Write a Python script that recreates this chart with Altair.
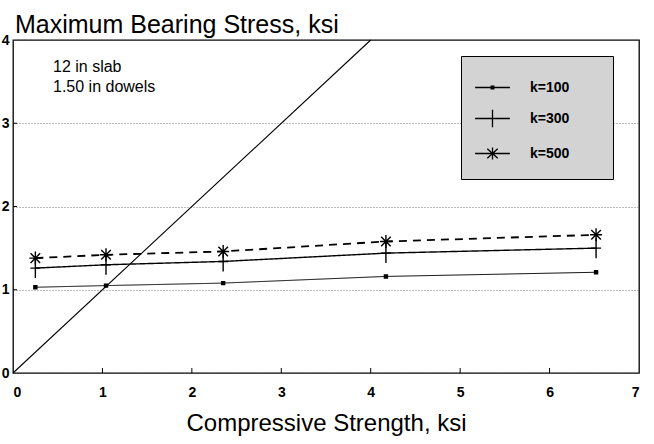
import altair as alt
import pandas as pd

# ---- data ----
strength = [0.25, 1.04, 2.35, 4.17, 6.52]
k100 = [1.03, 1.05, 1.08, 1.16, 1.21]
k300 = [1.26, 1.30, 1.34, 1.44, 1.50]
k500 = [1.38, 1.42, 1.46, 1.58, 1.66]
series_names = ["k=100", "k=300", "k=500"]

diag_x = [0, 4]
diag_y = [0, 4]

x_ticks = [0, 1, 2, 3, 4, 5, 6, 7]
y_ticks = [0, 1, 2, 3, 4]
notes = ["12 in slab", "1.50 in dowels"]

FONT = "Liberation Sans"
W, H = 626, 333

rows = []
for name, vals in zip(series_names, [k100, k300, k500]):
    for x, y in zip(strength, vals):
        rows.append({"strength": x, "stress": y, "series": name})
df = pd.DataFrame(rows)
diag_df = pd.DataFrame({"strength": diag_x, "stress": diag_y})

xscale = alt.Scale(domain=[0, 7], nice=False, zero=False)
yscale = alt.Scale(domain=[0, 4], nice=False, zero=False)

xaxis = alt.Axis(values=x_ticks, format="d", ticks=False, grid=False, domain=False,
                 labelFont=FONT, labelFontWeight="bold", labelFontSize=14, labelColor="black",
                 labelPadding=12, title="Compressive Strength, ksi", titleFont=FONT,
                 titleFontSize=24, titleFontWeight="normal", titleColor="black", titlePadding=12)
yaxis = alt.Axis(values=y_ticks, format="d", ticks=False, domain=False, grid=True,
                 gridDash=[1, 2], gridColor="#555555", gridWidth=0.8,
                 labelFont=FONT, labelFontWeight="bold", labelFontSize=14, labelColor="black",
                 labelPadding=4, title=None)

X = alt.X("strength:Q", scale=xscale, axis=xaxis)
Y = alt.Y("stress:Q", scale=yscale, axis=yaxis)

lines = alt.Chart(df).mark_line(color="black").encode(
    x=X, y=Y,
    detail="series:N",
    strokeDash=alt.StrokeDash("series:N", scale=alt.Scale(domain=series_names,
                              range=[[1, 0], [1, 0], [8, 6]]), legend=None),
    strokeWidth=alt.StrokeWidth("series:N", scale=alt.Scale(domain=series_names,
                                range=[1.0, 1.8, 1.3]), legend=None),
)

marker_paths = [
    "M-0.15,-0.15H0.15V0.15H-0.15Z",
    "M-0.5,0H0.5M0,-1V1",
    "M-0.6,0H0.6M0,-0.65V0.65M-0.48,-0.48L0.48,0.48M-0.48,0.48L0.48,-0.48",
]
markers = alt.Chart(df).mark_point(filled=True, fill="black", stroke="black",
                                   strokeWidth=1.4, size=400, opacity=1).encode(
    x=X, y=Y,
    shape=alt.Shape("series:N", scale=alt.Scale(domain=series_names, range=marker_paths),
                    legend=None),
)

legend_paths = [
    "M-1.2,0H1.2M-0.09,-0.09H0.09V0.09H-0.09Z",
    "M-1.2,0H1.2M0,-0.6V0.6",
    "M-1.2,0H1.2M0,-0.42V0.42M-0.36,-0.32L0.36,0.32M-0.36,0.32L0.36,-0.32",
]
legend_carrier = alt.Chart(df).mark_point(opacity=0, color="black").encode(
    x=X, y=Y,
    shape=alt.Shape("series:N", scale=alt.Scale(domain=series_names, range=legend_paths),
                    legend=alt.Legend(
                        title="MMM", titleOrient="right", titleOpacity=0, titleFontSize=11,
                        titlePadding=0,
                        orient="none", legendX=448, legendY=16,
                        direction="vertical", padding=16, fillColor="#d3d3d3",
                        strokeColor="black", cornerRadius=0, rowPadding=8,
                        symbolSize=841, symbolOpacity=1, symbolStrokeColor="black",
                        symbolFillColor="black", symbolStrokeWidth=1.3,
                        labelFont=FONT, labelFontWeight="bold", labelFontSize=14,
                        labelColor="black", labelOffset=22)),
)

diag = alt.Chart(diag_df).mark_line(color="black", strokeWidth=1.1).encode(x=X, y=Y)

xt_df = pd.DataFrame({"strength": x_ticks[1:-1]})
xticks = alt.Chart(xt_df).mark_rule(color="black", strokeWidth=1).encode(
    x=X, y=alt.value(H), y2=alt.value(H - 5))
yt_df = pd.DataFrame({"stress": y_ticks[1:-1]})
yticks = alt.Chart(yt_df).mark_rule(color="black", strokeWidth=1).encode(
    y=Y, x=alt.value(0), x2=alt.value(4))

note_df = pd.DataFrame({"note": notes})
note1 = alt.Chart(note_df.iloc[[0]]).mark_text(align="left", baseline="middle", font=FONT,
                                               fontSize=16, color="black").encode(
    text="note:N", x=alt.value(40), y=alt.value(27))
note2 = alt.Chart(note_df.iloc[[1]]).mark_text(align="left", baseline="middle", font=FONT,
                                               fontSize=16, color="black").encode(
    text="note:N", x=alt.value(40), y=alt.value(47))

chart = alt.layer(diag, lines, markers, legend_carrier, xticks, yticks, note1, note2).resolve_scale(
    shape="independent", strokeDash="independent", strokeWidth="independent"
).resolve_legend(shape="independent").properties(
    width=W, height=H,
    autosize=alt.AutoSizeParams(type="none"),
    padding={"left": 13, "top": 40, "right": 15, "bottom": 71},
    background="white",
    title=alt.TitleParams("Maximum Bearing Stress, ksi", anchor="start", frame="group",
                          font=FONT, fontSize=25, fontWeight="normal", color="black",
                          offset=-5, dx=2),
).configure_view(stroke="black", strokeWidth=1.3)

chart.save("out.html", embed_options={"renderer": "svg", "actions": False})
